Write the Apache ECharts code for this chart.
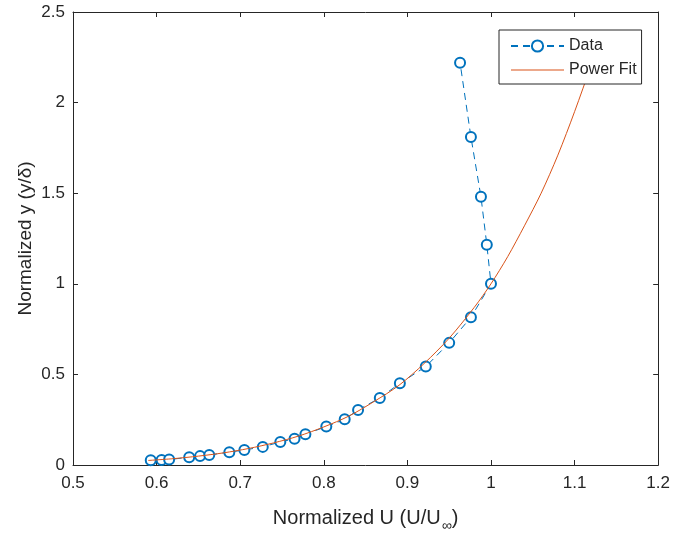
<!DOCTYPE html>
<html>
<head>
<meta charset="utf-8">
<script src="https://cdn.jsdelivr.net/npm/echarts@6/dist/echarts.min.js"></script>
<style>
  html, body { margin: 0; padding: 0; background: #fff; }
  #chart { width: 673px; height: 538px; }
</style>
</head>
<body>
<div id="chart"></div>
<script>
// measured points (U/Uinf, y/delta)
const dataU = [0.593, 0.606, 0.615, 0.639, 0.652, 0.663, 0.687, 0.705, 0.727, 0.748, 0.765,
  0.778, 0.803, 0.825, 0.841, 0.867, 0.891, 0.922, 0.95, 0.976, 1.0, 0.995, 0.988, 0.976, 0.963];
const dataY = [0.026, 0.028, 0.030, 0.043, 0.049, 0.055, 0.071, 0.083, 0.100, 0.127, 0.145,
  0.170, 0.212, 0.252, 0.304, 0.370, 0.451, 0.543, 0.674, 0.815, 1.0, 1.216, 1.48, 1.81, 2.22];

// power fit curve (runs on under the legend)
const fitU = [0.59, 0.62, 0.65, 0.68, 0.71, 0.74, 0.77, 0.80, 0.83, 0.86, 0.89, 0.92,
  0.95, 0.98, 1.0, 1.02, 1.04, 1.06, 1.08, 1.10, 1.12, 1.13];
const fitY = [0.025, 0.035, 0.049, 0.067, 0.091, 0.122, 0.160, 0.21, 0.27, 0.35, 0.44, 0.56,
  0.70, 0.87, 1.0, 1.15, 1.32, 1.50, 1.71, 1.95, 2.21, 2.35];

const xTicks = [0.5, 0.6, 0.7, 0.8, 0.9, 1, 1.1, 1.2];
const yTicks = [0, 0.5, 1, 1.5, 2, 2.5];

const FONT = "'Liberation Sans', Arial, Helvetica, sans-serif";
const INK = '#262626';

const chart = echarts.init(document.getElementById('chart'));

// shared look for the box axes (matlab style, ticks pointing in)
const axisBase = {
  axisLine: { show: true, onZero: false, lineStyle: { color: INK, width: 1 } },
  axisTick: { show: true, inside: true, length: 5, lineStyle: { color: INK } },
  splitLine: { show: false },
};

const option = {
  animation: false,
  backgroundColor: '#fff',
  textStyle: { fontFamily: FONT },
  grid: { left: 73, right: 13, top: 12, bottom: 66 },
  legend: {
    orient: 'vertical',
    left: 499,
    top: 30,
    z: 10,
    backgroundColor: '#fff',
    borderColor: INK,
    borderWidth: 1,
    borderRadius: 0,
    padding: [8, 5, 6, 11],
    itemWidth: 53,
    itemHeight: 14,
    itemGap: 8,
    textStyle: { fontSize: 16, color: INK, fontFamily: FONT },
    data: [
      { name: 'Data' },
      { name: 'Power Fit', icon: 'path://M0,0L100,0L100,2L0,2Z' },
    ],
  },
  xAxis: [
    Object.assign({}, axisBase, {
      type: 'value',
      min: xTicks[0],
      max: xTicks[xTicks.length - 1],
      interval: 0.1,
      position: 'bottom',
      axisLabel: { color: INK, fontSize: 17, margin: 10, formatter: v => String(+v.toFixed(1)) },
      name: 'Normalized U (U/U{sub|∞})',
      nameLocation: 'middle',
      nameMoveOverlap: false,
      nameGap: 38,
      nameTextStyle: {
        color: INK, fontSize: 20, fontFamily: FONT,
        rich: { sub: { fontSize: 14, color: INK, verticalAlign: 'bottom', padding: [16, 0, 0, 1] } },
      },
    }),
    Object.assign({}, axisBase, {
      type: 'value',
      min: xTicks[0],
      max: xTicks[xTicks.length - 1],
      interval: 0.1,
      position: 'top',
      axisLabel: { show: false },
    }),
  ],
  yAxis: [
    Object.assign({}, axisBase, {
      type: 'value',
      min: yTicks[0],
      max: yTicks[yTicks.length - 1],
      interval: 0.5,
      position: 'left',
      axisLabel: { color: INK, fontSize: 17, margin: 8, formatter: v => String(+v.toFixed(1)) },
      name: 'Normalized y (y/δ)',
      nameLocation: 'middle',
      nameMoveOverlap: false,
      nameGap: 38,
      nameTextStyle: { color: INK, fontSize: 19, fontFamily: FONT },
    }),
    Object.assign({}, axisBase, {
      type: 'value',
      min: yTicks[0],
      max: yTicks[yTicks.length - 1],
      interval: 0.5,
      position: 'right',
      axisLabel: { show: false },
    }),
  ],
  series: [
    {
      name: 'Data',
      type: 'line',
      data: dataU.map((u, i) => [u, dataY[i]]),
      symbol: 'emptyCircle',
      symbolSize: 10,
      showAllSymbol: true,
      color: '#0072BD',
      itemStyle: { color: '#0072BD', borderWidth: 0.9 },
      lineStyle: { color: '#0072BD', width: 1, type: [7, 5] },
      z: 2,
    },
    {
      name: 'Power Fit',
      type: 'line',
      data: fitU.map((u, i) => [u, fitY[i]]),
      smooth: 0.3,
      symbol: 'none',
      color: '#D95319',
      lineStyle: { color: '#D95319', width: 1 },
      z: 3,
    },
  ],
};

chart.setOption(option);
</script>
</body>
</html>
